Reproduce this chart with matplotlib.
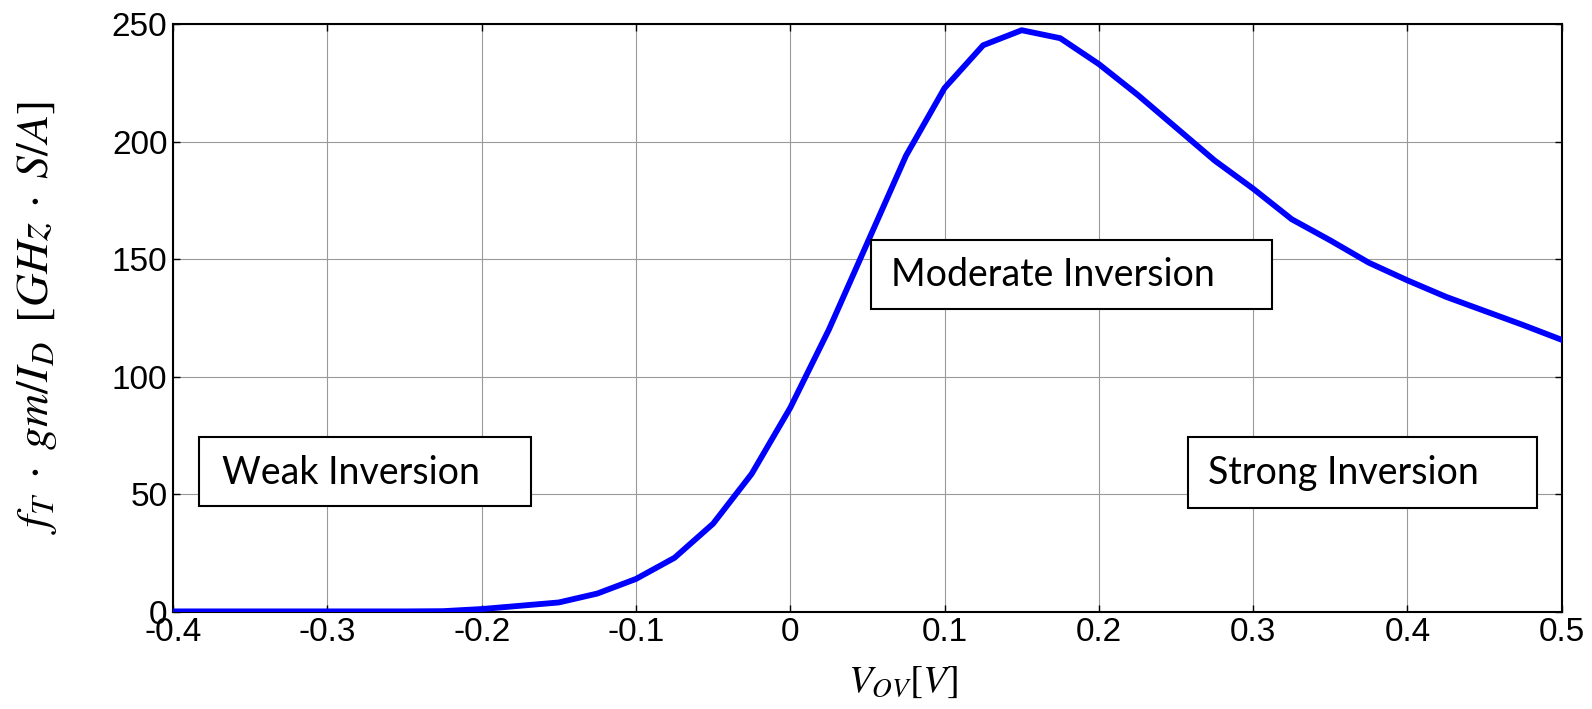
import matplotlib.pyplot as plt
from matplotlib.patches import Rectangle

# data
vov = [-0.4, -0.375, -0.35, -0.325, -0.3, -0.275, -0.25, -0.225, -0.2, -0.175,
       -0.15, -0.125, -0.1, -0.075, -0.05, -0.025, 0.0, 0.025, 0.05, 0.075,
       0.1, 0.125, 0.15, 0.175, 0.2, 0.225, 0.25, 0.275, 0.3, 0.325,
       0.35, 0.375, 0.4, 0.425, 0.45, 0.475, 0.5]
fom = [0.2, 0.2, 0.2, 0.2, 0.2, 0.2, 0.2, 0.3, 1.2, 2.6,
       4.0, 7.8, 14.0, 23.0, 37.5, 58.7, 86.8, 120.0, 157.0, 194.0,
       222.8, 241.0, 247.4, 244.0, 233.0, 220.0, 206.0, 192.0, 180.0, 167.0,
       158.0, 148.5, 141.0, 134.0, 128.0, 122.0, 115.7]

regions = ['Weak Inversion', 'Moderate Inversion', 'Strong Inversion']
xticks = [-0.4, -0.3, -0.2, -0.1, 0, 0.1, 0.2, 0.3, 0.4, 0.5]
xticklabels = ['-0.4', '-0.3', '-0.2', '-0.1', '0', '0.1', '0.2', '0.3', '0.4', '0.5']
yticks = [0, 50, 100, 150, 200, 250]

plt.rcParams['font.family'] = ['Liberation Sans', 'DejaVu Sans']
plt.rcParams['mathtext.fontset'] = 'stix'

fig = plt.figure(figsize=(15.92, 7.09), dpi=100)
ax = fig.add_axes([0.1087, 0.137, 0.8723, 0.829])

ax.plot(vov, fom, color='#0000ff', lw=4.2, zorder=3)
ax.set_xlim(-0.4, 0.5)
ax.set_ylim(0, 250)
ax.set_xticks(xticks)
ax.set_xticklabels(xticklabels)
ax.set_yticks(yticks)
ax.tick_params(direction='in', length=5, width=1, top=True, right=True,
               labelsize=24, pad=4)
ax.grid(True, color='#9a9a9a', lw=0.8)
for s in ax.spines.values():
    s.set_linewidth(1.5)

ax.set_xlabel(r'$V_{OV}[V]$', fontsize=28)
ax.xaxis.set_label_coords(0.526, -0.088)
ax.set_ylabel(r'$f_T\;\cdot\;gm/I_D\;\;[GHz\;\cdot\;S/A]$', fontsize=33)
ax.yaxis.set_label_coords(-0.082, 0.5)

# region label boxes (axes fraction)
boxes = [(0.0187, 0.1803, 0.2390, 0.1173, 0.0353, 0.236),
         (0.5025, 0.5153, 0.2887, 0.1174, 0.5170, 0.573),
         (0.7307, 0.1769, 0.2513, 0.1207, 0.7450, 0.236)]
for name, (x0, y0, w, h, tx, ty) in zip(regions, boxes):
    ax.add_patch(Rectangle((x0, y0), w, h, transform=ax.transAxes,
                           facecolor='white', edgecolor='black', lw=1.5, zorder=4))
    ax.text(tx, ty, name, transform=ax.transAxes, fontsize=27,
            family=['Lato', 'DejaVu Sans'], va='center', ha='left', zorder=5)

fig.savefig('out.png', dpi=100)
